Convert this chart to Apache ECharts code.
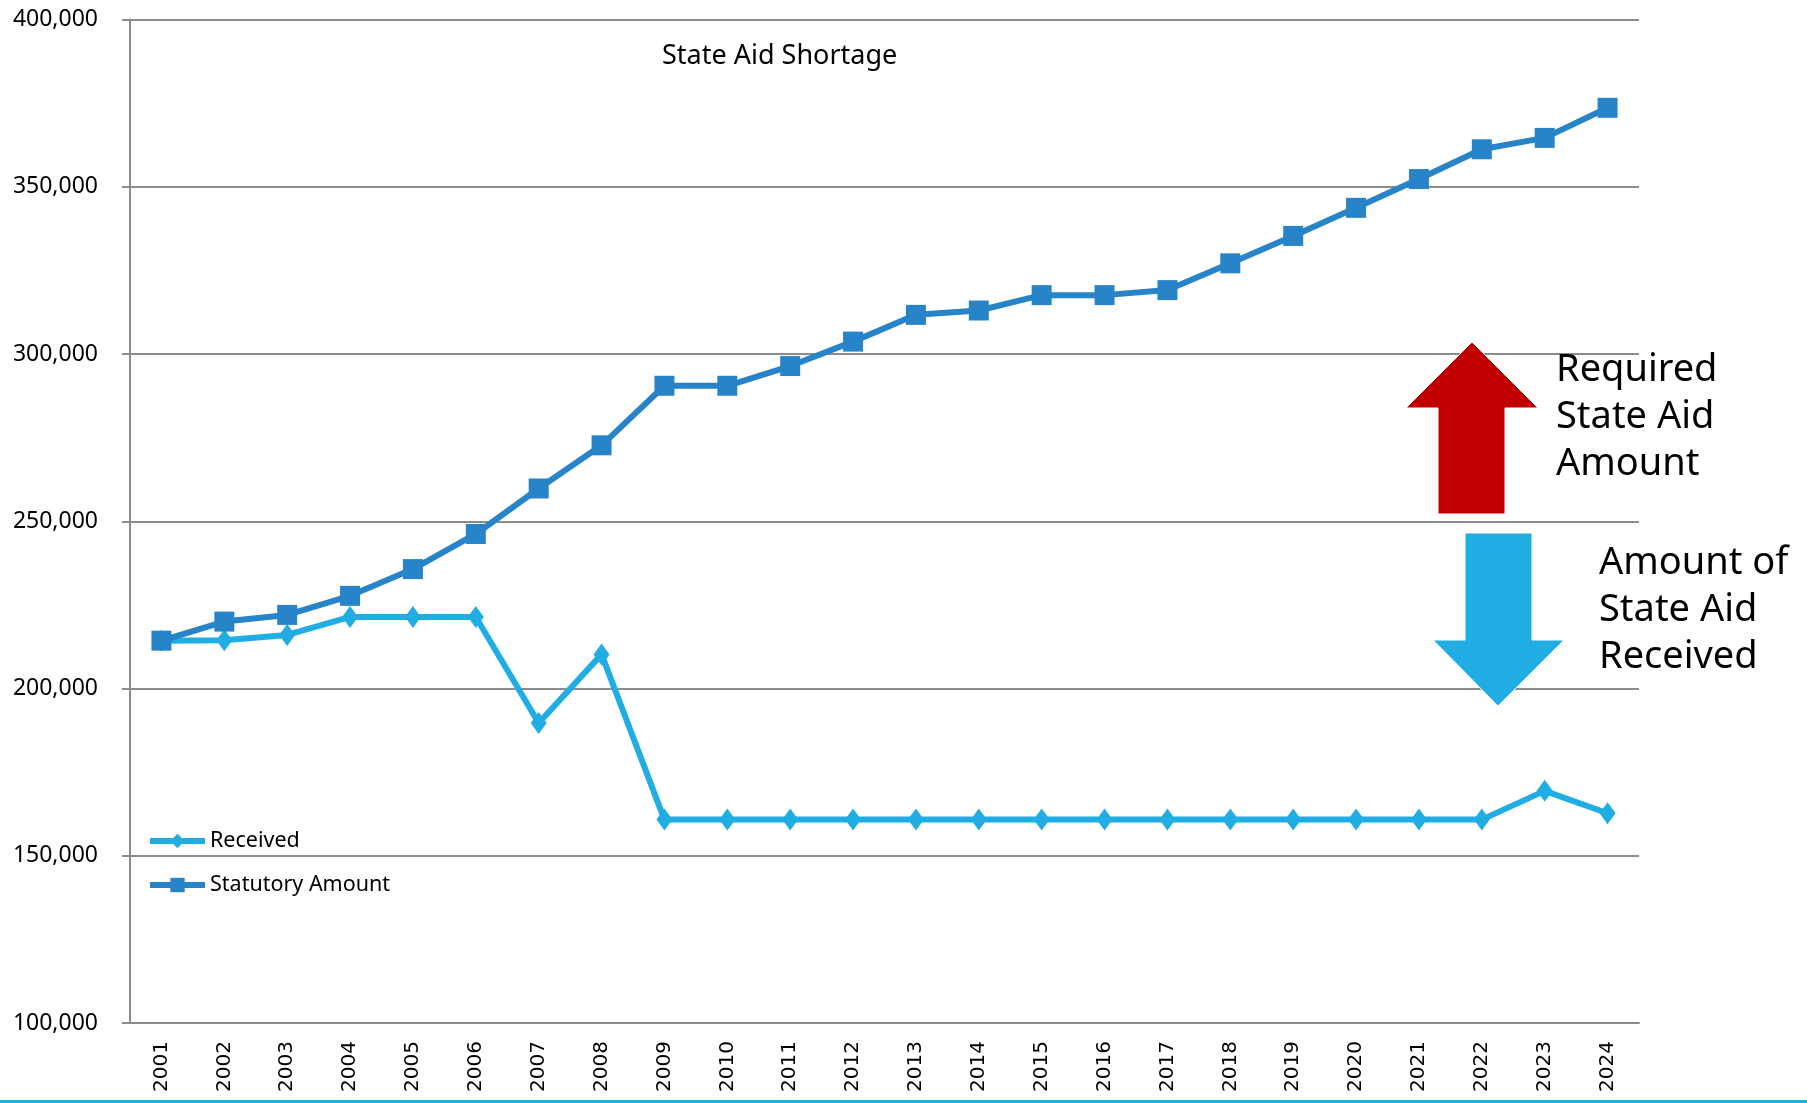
<!DOCTYPE html>
<html>
<head>
<meta charset="utf-8">
<script src="https://cdn.jsdelivr.net/npm/echarts@6/dist/echarts.min.js"></script>
<style>
  html, body { margin: 0; padding: 0; background: #fff; }
  #chart { width: 1807px; height: 1103px; }
</style>
</head>
<body>
<div id="chart"></div>
<script>
const years = ['2001', '2002', '2003', '2004', '2005', '2006', '2007', '2008', '2009', '2010', '2011', '2012',
  '2013', '2014', '2015', '2016', '2017', '2018', '2019', '2020', '2021', '2022', '2023', '2024']
const received = [214300, 214400, 216000, 221400, 221400, 221400, 189700, 210200, 160800, 160800, 160800, 160800,
  160800, 160800, 160800, 160800, 160800, 160800, 160800, 160800, 160800, 160800, 169400, 162700]
const statutory = [214300, 220000, 222000, 227700, 235700, 246200, 259800, 272700, 290500, 290500, 296400, 303700,
  311700, 313000, 317600, 317600, 319100, 327100, 335300, 343700, 352300, 361200, 364600, 373600]
const yMin = 100000
const yMax = 400000
const yStep = 50000

const chart = echarts.init(document.getElementById('chart'))
const font = 'Noto Sans'
const lightBlue = '#1fade3'
const darkBlue = '#2784c8'

const option = {
  backgroundColor: '#ffffff',
  animation: false,
  grid: { left: 130, right: 168, top: 19.5, bottom: 80 },
  legend: {
    orient: 'vertical',
    left: 142,
    top: 825,
    itemWidth: 55,
    itemHeight: 18,
    itemGap: 22,
    data: [
      { name: 'Received', lineStyle: { width: 6 } },
      { name: 'Statutory Amount', lineStyle: { width: 6 } }
    ],
    textStyle: { fontFamily: font, fontSize: 21.5, color: '#000' }
  },
  xAxis: {
    type: 'category',
    data: years,
    axisLine: { lineStyle: { color: '#8c8c8c', width: 2 } },
    axisTick: { length: 8, lineStyle: { color: '#8c8c8c', width: 2 } },
    axisLabel: { rotate: 90, margin: 18, fontFamily: 'DejaVu Sans', fontSize: 20, color: '#000' }
  },
  yAxis: {
    type: 'value',
    min: yMin,
    max: yMax,
    interval: yStep,
    axisLine: { show: true, lineStyle: { color: '#8c8c8c', width: 2 } },
    axisTick: { show: true, length: 8, lineStyle: { color: '#8c8c8c', width: 2 } },
    splitLine: { lineStyle: { color: '#8c8c8c', width: 2 } },
    axisLabel: {
      margin: 32,
      fontFamily: font,
      fontSize: 23,
      color: '#000',
      formatter: v => v.toLocaleString('en-US')
    }
  },
  series: [
    {
      name: 'Received',
      type: 'line',
      data: received,
      symbol: 'diamond',
      symbolSize: [16, 22],
      lineStyle: { width: 6, color: lightBlue },
      itemStyle: { color: lightBlue },
      z: 2
    },
    {
      name: 'Statutory Amount',
      type: 'line',
      data: statutory,
      symbol: 'rect',
      symbolSize: 20,
      lineStyle: { width: 6, color: darkBlue },
      itemStyle: { color: darkBlue },
      z: 3
    }
  ],
  graphic: [
    {
      type: 'text',
      left: 662,
      top: 43,
      style: { text: 'State Aid Shortage', fontFamily: font, fontSize: 27, fill: '#000' }
    },
    // red up arrow
    {
      type: 'polygon',
      shape: { points: [[1472, 342], [1538, 408], [1505, 408], [1505, 514], [1438, 514], [1438, 408], [1406, 408]] },
      style: { fill: '#c00000', stroke: '#ffffff', lineWidth: 1 },
      z: 10
    },
    // blue down arrow
    {
      type: 'polygon',
      shape: { points: [[1465, 533], [1532, 533], [1532, 640], [1564, 640], [1498, 706], [1433, 640], [1465, 640]] },
      style: { fill: lightBlue, stroke: '#ffffff', lineWidth: 1 },
      z: 10
    },
    {
      type: 'text',
      left: 1556,
      top: 347,
      style: { text: 'Required\nState Aid\nAmount', fontFamily: font, fontSize: 38, lineHeight: 47, fill: '#000' },
      z: 10
    },
    {
      type: 'text',
      left: 1599,
      top: 540,
      style: { text: 'Amount of\nState Aid\nReceived', fontFamily: font, fontSize: 38, lineHeight: 47, fill: '#000' },
      z: 10
    },
    {
      type: 'rect',
      shape: { x: 0, y: 1100, width: 1807, height: 3 },
      style: { fill: lightBlue }
    }
  ]
}

chart.setOption(option)
</script>
</body>
</html>
